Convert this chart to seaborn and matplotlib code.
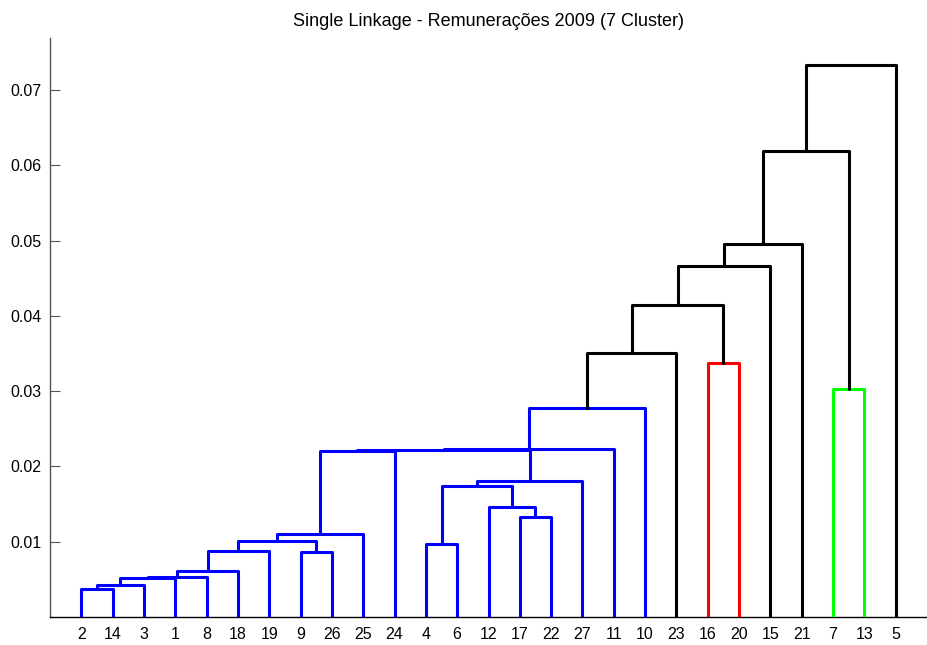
import numpy as np
import pandas as pd
import matplotlib
matplotlib.use("Agg")
import matplotlib.pyplot as plt
import seaborn as sns

# Single-linkage merge table: nodes 1..27 are observations,
# node 27 + k is the cluster created at merge step k.
n_obs = 27
merge_left = [2, 28, 29, 30, 31, 9, 32, 4, 34, 36, 17, 12, 35,
              40, 37, 42, 43, 44, 7, 16, 45, 48, 49, 50, 51, 52]
merge_right = [14, 3, 1, 8, 18, 26, 19, 6, 33, 25, 22, 38, 39,
               27, 24, 41, 11, 10, 13, 20, 23, 47, 15, 21, 46, 5]
merge_height = [0.00367, 0.00425, 0.00518, 0.00535, 0.00615, 0.00858,
                0.00876, 0.00974, 0.01009, 0.01102, 0.01332, 0.01460,
                0.01739, 0.01810, 0.02199, 0.02222, 0.02234, 0.02779,
                0.03027, 0.03373, 0.03506, 0.04145, 0.04667, 0.04960,
                0.06195, 0.07338]

# Cut height for the 7 clusters and the colour of each coloured group
color_threshold = 0.0345
group_seed = [2, 16, 7]
group_color = ["blue", "red", "lime"]
palette = {"blue": "#0000ff", "red": "#ff0000", "lime": "#00ff00", "black": "#000000"}

yticks = [0.01, 0.02, 0.03, 0.04, 0.05, 0.06, 0.07]
title = "Single Linkage - Remunerações 2009 (7 Cluster)"

# ---- dendrogram geometry -------------------------------------------------
children = {n_obs + k + 1: (l, r) for k, (l, r) in enumerate(zip(merge_left, merge_right))}
height = {n_obs + k + 1: h for k, h in enumerate(merge_height)}
root = n_obs + len(merge_left)


def leaves_of(node):
    if node <= n_obs:
        return [node]
    l, r = children[node]
    return leaves_of(l) + leaves_of(r)


leaf_order = leaves_of(root)
xpos = {leaf: i + 1 for i, leaf in enumerate(leaf_order)}


def node_x(node):
    if node <= n_obs:
        return xpos[node]
    l, r = children[node]
    return 0.5 * (node_x(l) + node_x(r))


def node_h(node):
    return 0.0 if node <= n_obs else height[node]


# Every link below the cut inherits the colour of its group root
link_color = {}


def assign_colors(node, inherited=None):
    if node <= n_obs:
        return
    col = inherited
    if height[node] < color_threshold:
        if col is None:
            members = set(leaves_of(node))
            col = "black"
            for seed, c in zip(group_seed, group_color):
                if seed in members:
                    col = c
        link_color[node] = col
    else:
        link_color[node] = "black"
    l, r = children[node]
    assign_colors(l, col)
    assign_colors(r, col)


assign_colors(root)

rows = []
for node, (l, r) in children.items():
    h = height[node]
    xl, xr = node_x(l), node_x(r)
    path = [(xl, node_h(l)), (xl, h), (xr, h), (xr, node_h(r))]
    for step, (px, py) in enumerate(path):
        rows.append({"link": node, "step": step, "x": px, "y": py,
                     "color": link_color[node]})
segments = pd.DataFrame(rows)

# ---- figure --------------------------------------------------------------
sns.set_theme(style="white")
plt.rcParams["font.family"] = ["Liberation Sans", "DejaVu Sans"]

fig = plt.figure(figsize=(9.27, 6.45), dpi=100)
ax = fig.add_axes([50 / 927, 28 / 645, 1 - 50 / 927, 579 / 645])

sns.lineplot(data=segments, x="x", y="y", units="link", hue="color",
             palette=palette, estimator=None, sort=False, legend=False,
             linewidth=2.2, ax=ax, zorder=3)

ax.set_xlim(0, n_obs + 1)
ax.set_ylim(0, 0.0769)
ax.set_xticks(list(range(1, n_obs + 1)))
ax.set_xticklabels([str(v) for v in leaf_order], fontsize=11.5)
ax.set_yticks(yticks)
ax.set_yticklabels([f"{v:.2f}" for v in yticks], fontsize=11.5)
ax.set_xlabel("")
ax.set_ylabel("")

for side in ("top", "right"):
    ax.spines[side].set_visible(False)
ax.spines["left"].set_color("#555555")
ax.spines["left"].set_linewidth(1.0)
ax.spines["bottom"].set_color("black")
ax.spines["bottom"].set_linewidth(1.0)
ax.tick_params(axis="y", direction="in", length=7, width=0.8, color="#555555",
               pad=6, labelcolor="black", left=True)
ax.tick_params(axis="x", direction="in", length=7, width=0.8, color="black",
               pad=7, labelcolor="black", bottom=True)
ax.grid(False)

ax.set_title(title, fontsize=13, pad=9, color="black")

fig.savefig("out.png", dpi=100, facecolor="white")
